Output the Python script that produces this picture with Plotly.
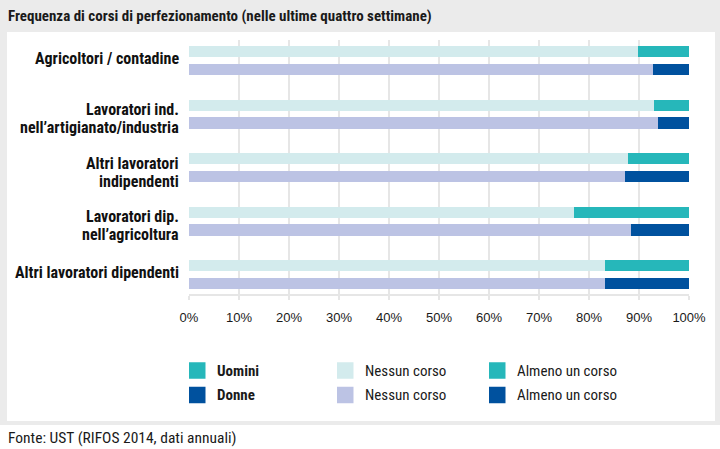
import plotly.graph_objects as go

categories = ["Agricoltori / contadine",
              "Lavoratori ind.<br>nell’artigianato/industria",
              "Altri lavoratori<br>indipendenti",
              "Lavoratori dip.<br>nell’agricoltura",
              "Altri lavoratori dipendenti"]
men_nessun = [89.7, 92.9, 87.8, 76.9, 83.1]
men_almeno = [10.3, 7.1, 12.2, 23.1, 16.9]
women_nessun = [92.7, 93.7, 87.1, 88.3, 83.2]
women_almeno = [7.3, 6.3, 12.9, 11.7, 16.8]
x_ticks = [0, 10, 20, 30, 40, 50, 60, 70, 80, 90, 100]

C_MEN_LIGHT = "#d3ebed"
C_MEN = "#26b7ba"
C_WOMEN_LIGHT = "#bcc3e4"
C_WOMEN = "#00519e"
GRID = "#e6e6e6"
COND = "Roboto Condensed"

W, H = 720, 449
L, R, T, B = 189, 31, 40, 155
PW, PH = W - L - R, H - T - B

def px(x):
    return (x - L) / PW

def py(y):
    return (H - B - y) / PH

idx = list(range(len(categories)))
off = 0.1665
bw = 0.211
y_men = [i - off for i in idx]
y_women = [i + off for i in idx]

fig = go.Figure()
fig.add_bar(y=y_men, x=men_nessun, orientation="h", marker_color=C_MEN_LIGHT, width=bw, name="Uomini – Nessun corso")
fig.add_bar(y=y_men, x=men_almeno, orientation="h", marker_color=C_MEN, width=bw, name="Uomini – Almeno un corso")
fig.add_bar(y=y_women, x=women_nessun, orientation="h", marker_color=C_WOMEN_LIGHT, width=bw, name="Donne – Nessun corso")
fig.add_bar(y=y_women, x=women_almeno, orientation="h", marker_color=C_WOMEN, width=bw, name="Donne – Almeno un corso")
fig.update_traces(marker_line_width=0, showlegend=False, hoverinfo="x")

shapes = [
    dict(type="rect", xref="paper", yref="paper", x0=px(0), x1=px(720), y0=py(425), y1=py(0),
         fillcolor="#ebebeb", line_width=0, layer="below"),
    dict(type="rect", xref="paper", yref="paper", x0=px(7), x1=px(715), y0=py(421), y1=py(32),
         fillcolor="white", line_width=0, layer="below"),
]

annotations = []
for i, c in enumerate(categories):
    lines = c.split("<br>")
    if len(lines) == 1:
        offsets = [-2]
    else:
        offsets = [-4.5, 13.5]
    for ln, d in zip(lines, offsets):
        annotations.append(dict(text="<b>" + ln + "</b>", x=px(181), xref="paper", y=i, yref="y",
                                xanchor="right", yanchor="middle", align="right", showarrow=False,
                                yshift=-d, font=dict(family=COND, size=16, color="#111")))

annotations.append(dict(text="<b>Frequenza di corsi di perfezionamento (nelle ultime quattro settimane)</b>",
                        x=px(6), xref="paper", y=py(16), yref="paper", xanchor="left", yanchor="middle",
                        showarrow=False, font=dict(family=COND, size=15, color="#1a1a1a")))
annotations.append(dict(text="Fonte: UST (RIFOS 2014, dati annuali)",
                        x=px(6), xref="paper", y=py(438), yref="paper", xanchor="left", yanchor="middle",
                        showarrow=False, font=dict(family=COND, size=15.5, color="#1a1a1a")))

legend_rows = [
    (370.5, "<b>Uomini</b>", C_MEN, C_MEN_LIGHT, C_MEN),
    (395, "<b>Donne</b>", C_WOMEN, C_WOMEN_LIGHT, C_WOMEN),
]
cols = [189, 337, 489]
sq = 16.5
for yc, lab, c1, c2, c3 in legend_rows:
    texts = [lab, "Nessun corso", "Almeno un corso"]
    for xc, col, t in zip(cols, [c1, c2, c3], texts):
        shapes.append(dict(type="rect", xref="paper", yref="paper", x0=px(xc), x1=px(xc + sq),
                           y0=py(yc + sq / 2), y1=py(yc - sq / 2), fillcolor=col, line_width=0))
        annotations.append(dict(text=t, x=px(xc + 26), xref="paper", y=py(yc), yref="paper",
                                xanchor="left", yanchor="middle", showarrow=False,
                                font=dict(family=COND, size=15, color="#1a1a1a")))

fig.update_layout(
    width=W, height=H, margin=dict(l=L, r=R, t=T, b=B, pad=0),
    barmode="stack", paper_bgcolor="white", plot_bgcolor="rgba(0,0,0,0)",
    shapes=shapes, annotations=annotations, showlegend=False,
    xaxis=dict(range=[0, 100], tickvals=x_ticks, ticktext=[f"{v}%" for v in x_ticks],
               showgrid=True, gridcolor=GRID, gridwidth=2, zeroline=False,
               showline=True, linecolor=GRID, linewidth=2,
               ticks="outside", ticklen=4, tickcolor=GRID, tickwidth=2,
               tickfont=dict(family="Liberation Sans", size=13, color="#1a1a1a"),
               ticklabelstandoff=6, fixedrange=True),
    yaxis=dict(range=[4.365, -0.387], showticklabels=False, showgrid=False, zeroline=False,
               fixedrange=True),
)

fig.write_html("out.html", config={"displayModeBar": False},
               post_script="document.body.style.margin='0';")
